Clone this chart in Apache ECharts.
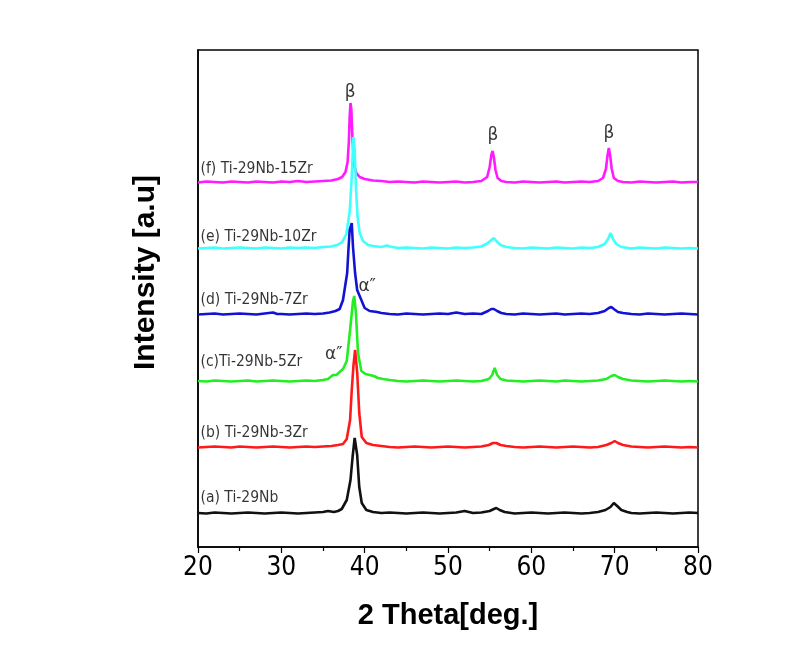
<!DOCTYPE html>
<html>
<head>
<meta charset="utf-8">
<script src="https://cdn.jsdelivr.net/npm/echarts@6/dist/echarts.min.js"></script>
<style>
  html, body { margin: 0; padding: 0; background: #fff; }
  #chart { width: 802px; height: 665px; }
</style>
</head>
<body>
<div id="chart"></div>
<script>
// x: 2 theta (deg), y: intensity (a.u., offset stacked)
const xTicks = [20, 30, 40, 50, 60, 70, 80];

const seriesF = [[20,364.5],[21,365.5],[22,365],[23,364.5],[24,365.5],[25,365],[26,364.5],[27,365.5],[28,365],[29,364.5],[30,365.5],[31,365],[32,366],[33,365],[34,365.5],[35,366],[36,366.5],[36.8,368],[37.3,370],[37.7,375],[37.95,385],[38.1,405],[38.2,430],[38.3,444],[38.4,438],[38.5,415],[38.65,392],[38.8,380],[39.0,374],[39.4,370],[40,368],[41,366.5],[42,366],[43,365],[44,365.5],[45,365],[46,364.5],[47,365.5],[48,365],[49,364.5],[50,365],[51,365.5],[52,364.5],[53,365],[54,366],[54.7,370],[55.0,380],[55.2,392],[55.35,396],[55.5,390],[55.7,377],[55.95,369],[56.4,366],[57,365],[58,364.5],[59,365.5],[60,365],[61,364.5],[62,365],[63,365.5],[64,364.5],[65,365],[66,365.5],[67,365],[68,366],[68.6,369],[68.95,378],[69.15,392],[69.3,399],[69.45,392],[69.65,378],[69.9,369],[70.4,366],[71,365],[72,364.5],[73,365.5],[74,365],[75,364.5],[76,365],[77,365.5],[78,364.5],[79,365],[80,365]];

const seriesE = [[20,298.5],[21,299],[22,299.5],[23,298.5],[24,299],[25,299.5],[26,299],[27,298.5],[28,299.5],[29,299],[30,298.5],[31,299.5],[32,299],[33,299.5],[34,299],[35,300],[36,300.5],[36.7,302],[37.3,305],[37.8,313],[38.2,335],[38.45,370],[38.65,410],[38.8,398],[38.95,360],[39.15,330],[39.4,314],[39.8,306],[40.4,302],[41,301],[42,300],[42.7,301.5],[43,300.5],[44,299],[45,299.5],[46,299],[47,298.5],[48,299.5],[49,299],[50,298.5],[51,299.5],[52,299],[53,299.5],[54,300.5],[54.8,304],[55.2,307],[55.5,309],[55.8,306],[56.3,302],[57,300],[58,299],[59,298.5],[60,299.5],[61,299],[62,298.5],[63,299.5],[64,299],[65,298.5],[66,299.5],[67,299],[68,300],[68.8,303],[69.2,308],[69.5,314],[69.8,308],[70.2,303],[70.8,300],[71,299.5],[72,298.5],[73,299.5],[74,299],[75,298.5],[76,299.5],[77,299],[78,298.5],[79,299],[80,298.5]];

const seriesD = [[20,232.5],[21,233],[22,233.5],[23,232.5],[24,233],[25,233.5],[26,233],[27,232.5],[28,233.5],[29,234.5],[29.5,233],[30,233],[31,232.5],[32,233],[33,233.5],[34,233],[35,233.5],[35.8,234.5],[36.5,236],[37.0,238],[37.4,247],[37.9,274],[38.05,297],[38.2,317],[38.45,324],[38.6,300],[38.85,274],[39.1,257],[39.45,250],[39.6,248],[40.0,239],[40.6,236],[41.5,235],[42,234],[43,233],[44,232.5],[45,233.5],[46,233],[47,232.5],[48,233],[49,233.5],[50,233],[51,234.5],[52,233],[53,233.5],[54,233],[54.8,236],[55.2,238],[55.5,238],[55.9,236],[56.4,234],[57,233],[58,232.5],[59,233.5],[60,233],[61,232.5],[62,233],[63,233.5],[64,232.5],[65,233],[66,233.5],[67,233],[68,234],[68.8,236],[69.3,239],[69.6,240],[69.9,238],[70.4,235],[71,234],[72,233],[73,232.5],[74,233.5],[75,233],[76,232.5],[77,233],[78,233.5],[79,233],[80,232.5]];

const seriesC = [[20,166],[21,165.5],[22,166.5],[23,166],[24,165.5],[25,166],[26,166.5],[27,165.5],[28,166],[29,166.5],[30,166],[31,165.5],[32,166],[33,166.5],[34,166],[35,167],[35.6,168],[36.2,172],[36.6,172],[37.0,175],[37.4,178],[37.85,186],[38.25,217],[38.6,246],[38.75,251],[38.95,234],[39.2,194],[39.6,176],[40.1,173],[40.6,172],[41.1,171],[41.6,169],[42.2,168],[43,167],[44,166],[45,165.5],[46,166],[47,166.5],[48,166],[49,165.5],[50,166],[51,166.5],[52,166],[53,165.5],[54,166],[54.9,168],[55.3,172],[55.6,179],[55.9,172],[56.3,168],[57,166.5],[58,166],[59,165.5],[60,166],[61,166.5],[62,166],[63,165.5],[64,166.5],[65,166],[66,165.5],[67,166],[68,166.5],[69,168],[69.6,171],[70,172],[70.4,170],[71,168],[72,166.5],[73,166],[74,165.5],[75,166],[76,166.5],[77,166],[78,165.5],[79,166],[80,165.5]];

const seriesB = [[20,99.5],[21,100],[22,100.5],[23,100],[24,99.5],[25,100.5],[26,100],[27,99.5],[28,100],[29,100.5],[30,100],[31,99.5],[32,100],[33,100.5],[34,100],[35,100.5],[36,101],[36.8,102],[37.4,103],[37.85,108],[38.25,127],[38.45,157],[38.65,181],[38.85,197],[39.1,175],[39.35,134],[39.65,110],[40.2,104],[41,102],[42,101],[43,100],[44,99.5],[45,100],[46,100.5],[47,100],[48,99.5],[49,100],[50,100.5],[51,100],[52,99.5],[53,100],[54,100.5],[54.9,102],[55.4,104],[55.8,104],[56.3,102],[57,101],[58,100],[59,99.5],[60,100],[61,100.5],[62,100],[63,99.5],[64,100],[65,100.5],[66,100],[67,99.5],[68,100],[69,102],[69.6,104],[70,106],[70.4,104],[71,102],[72,100.5],[73,100],[74,99.5],[75,100],[76,100.5],[77,100],[78,99.5],[79,100],[80,99.5]];

const seriesA = [[20,34],[21,33.5],[22,34.5],[23,34],[24,33.5],[25,34],[26,34.5],[27,34],[28,33.5],[29,34],[30,34.5],[31,34],[32,33.5],[33,34],[34,34.5],[35,35],[35.6,36],[36.3,35],[36.8,36],[37.25,38],[37.85,47],[38.3,67],[38.55,90],[38.8,109],[39.1,92],[39.35,60],[39.65,44],[40.2,37],[41,35],[42,34],[43,34.5],[44,34],[45,33.5],[46,34],[47,34.5],[48,34],[49,33.5],[50,34],[51,34.5],[52,36],[52.5,35],[53,34],[54,34.5],[55,36],[55.5,38],[55.8,39],[56.2,37],[56.8,35],[57,34.5],[58,33.5],[59,34],[60,34.5],[61,34],[62,33.5],[63,34],[64,34.5],[65,34],[66,33.5],[67,34],[68,35],[68.9,37],[69.5,40],[69.9,44],[70.3,41],[70.8,37],[71.5,35],[72,34],[73,33.5],[74,34],[75,34.5],[76,34],[77,33.5],[78,34],[79,34.5],[80,34]];

const sampleNames = ['(f) Ti-29Nb-15Zr', '(e) Ti-29Nb-10Zr', '(d) Ti-29Nb-7Zr', '(c)Ti-29Nb-5Zr', '(b) Ti-29Nb-3Zr', '(a) Ti-29Nb'];
const sampleLabelPos = [[20.3, 378], [20.3, 310], [20.3, 247], [20.3, 185], [20.3, 114], [20.3, 49]];
const phaseLabels = [[38.25, 454, 'β'], [55.4, 411, 'β'], [69.3, 413, 'β'], [40.3, 260, 'α\u2033'], [36.3, 192, 'α\u2033']];

const seriesData = [seriesF, seriesE, seriesD, seriesC, seriesB, seriesA];
const seriesColors = ['#ff1aff', '#40ffff', '#1212d2', '#22ee22', '#ff1a1a', '#111111'];

const chart = echarts.init(document.getElementById('chart'), null, { renderer: 'canvas' });

const lineSeries = seriesData.map((d, i) => ({
  name: sampleNames[i],
  type: 'line',
  data: d,
  showSymbol: false,
  symbol: 'none',
  lineStyle: { color: seriesColors[i], width: 2.6 },
  itemStyle: { color: seriesColors[i] },
  z: 2 + i
}));

const labelSeries = {
  type: 'scatter',
  symbolSize: 0,
  z: 20,
  data: sampleLabelPos.map((p, i) => [p[0], p[1], sampleNames[i]]),
  label: {
    show: true,
    position: 'right',
    distance: 0,
    formatter: p => p.data[2],
    color: '#000',
    fontFamily: 'DejaVu Sans Condensed',
    fontSize: 15.5
  }
};

const phaseSeries = {
  type: 'scatter',
  symbolSize: 0,
  z: 20,
  data: phaseLabels,
  label: {
    show: true,
    position: 'inside',
    formatter: p => p.data[2],
    color: '#000',
    fontFamily: 'DejaVu Sans',
    fontSize: 17
  }
};

chart.setOption({
  animation: false,
  backgroundColor: '#fff',
  grid: {
    left: 198, top: 50, width: 500, height: 497,
    show: true, borderColor: '#000', borderWidth: 1.5, backgroundColor: 'transparent'
  },
  xAxis: {
    type: 'value',
    min: 20, max: 80, interval: 10,
    name: '2 Theta[deg.]',
    nameLocation: 'middle',
    nameGap: 54,
    nameTextStyle: { fontFamily: 'Liberation Sans', fontWeight: 'bold', fontSize: 29, color: '#000' },
    axisLine: { show: true, onZero: false, lineStyle: { color: '#000', width: 1.5 } },
    axisTick: { show: true, inside: false, length: 6, lineStyle: { color: '#000', width: 1.2 } },
    minorTick: { show: true, splitNumber: 2, length: 4, lineStyle: { color: '#000', width: 1.2 } },
    splitLine: { show: false },
    minorSplitLine: { show: false },
    axisLabel: {
      show: true, margin: 8, color: '#000',
      fontFamily: 'DejaVu Sans Condensed', fontSize: 26,
      formatter: v => (xTicks.indexOf(v) >= 0 ? String(v) : '')
    }
  },
  yAxis: {
    type: 'value',
    min: 0, max: 497,
    name: 'Intensity [a.u]',
    nameLocation: 'middle',
    nameRotate: 90,
    nameGap: 37,
    nameTextStyle: { fontFamily: 'Liberation Sans', fontWeight: 'bold', fontSize: 30, color: '#000', padding: [0, 0, 0, 52] },
    axisLine: { show: true, onZero: false, lineStyle: { color: '#000', width: 1.5 } },
    axisTick: { show: false },
    axisLabel: { show: false },
    splitLine: { show: false }
  },
  series: [...lineSeries, labelSeries, phaseSeries]
});
</script>
</body>
</html>
